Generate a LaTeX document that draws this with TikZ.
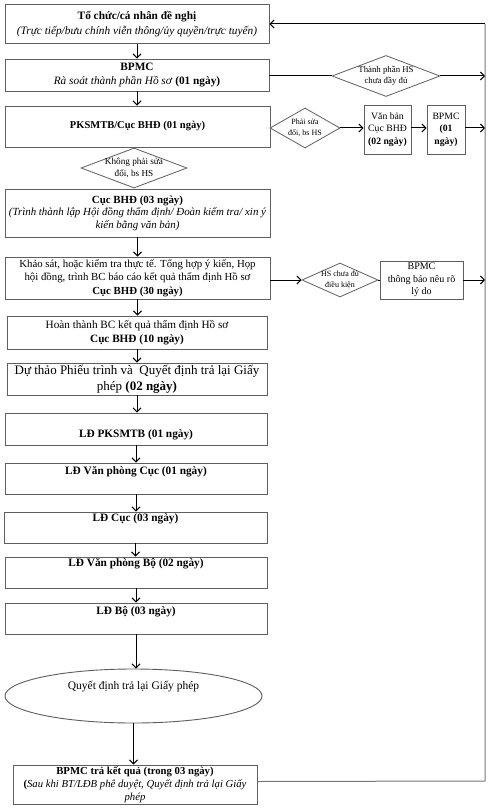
\documentclass[tikz,border=0pt]{standalone}
\usepackage{fontspec}
\setmainfont{Liberation Serif}
\usetikzlibrary{shapes.geometric,arrows.meta}
\definecolor{boxgray}{RGB}{95,95,95}
\definecolor{linegray}{RGB}{120,120,120}
\begin{document}
\begin{tikzpicture}[x=1pt,y=-1pt,
 box/.style={draw=boxgray,line width=0.9pt,rectangle,inner sep=1pt,align=center,font=\fontsize{11}{13.5}\selectfont},
 dia/.style={draw=boxgray,line width=0.8pt,diamond,inner sep=0pt},
 dtext/.style={align=center,inner sep=0pt},
 ltext/.style={align=center,inner sep=0pt,font=\fontsize{11.3}{13.5}\selectfont},
 arr/.style={line width=1pt,-{Straight Barb[length=4pt,width=8pt]}},
 ln/.style={line width=1pt},
]
\useasboundingbox (0,0) rectangle (495,810);
\fill[white] (0,0) rectangle (495,810);

% main column
\node[box,minimum width=264pt,minimum height=39pt,font=\fontsize{11.3}{15}\selectfont] (b1) at (137,24)
 {\textbf{Tổ chức/cá nhân đề nghị}\\\textit{(Trực tiếp/bưu chính viễn thông/ủy quyền/trực tuyến)}};
\node[box,minimum width=264pt,minimum height=32pt,font=\fontsize{11.3}{14}\selectfont] (b2) at (137,75)
 {\textbf{BPMC}\\\textit{Rà soát thành phần Hồ sơ} \textbf{(01 ngày)}};
\node[box,minimum width=265pt,minimum height=41pt,font=\fontsize{10.5}{13}\selectfont] (b3) at (137.5,126.5)
 {\textbf{PKSMTB/Cục BHĐ (01 ngày)}};
\node[box,minimum width=265pt,minimum height=48pt,font=\fontsize{10.9}{12.5}\selectfont] (b4) at (137.5,213)
 {\textbf{Cục BHĐ (03 ngày)}\\\textit{(Trình thành lập Hội đồng thẩm định/ Đoàn kiểm tra/ xin ý}\\\textit{kiến bằng văn bản)}};
\node[box,minimum width=265pt,minimum height=42pt,font=\fontsize{10.8}{13.5}\selectfont] (b5) at (137.5,278)
 {Khảo sát, hoặc kiểm tra thực tế. Tổng hợp ý kiến, Họp\\hội đồng, trình BC báo cáo kết quả thẩm định Hồ sơ\\\textbf{Cục BHĐ (30 ngày)}};
\node[box,minimum width=260pt,minimum height=33pt,font=\fontsize{11.2}{13.5}\selectfont] (b6) at (137,332.5)
 {Hoàn thành BC kết quả thẩm định Hồ sơ\\\textbf{Cục BHĐ (10 ngày)}};
\node[box,minimum width=260pt,minimum height=32pt,font=\fontsize{13}{16}\selectfont] (b7) at (137,379)
 {Dự thảo Phiếu trình và\ \ Quyết định trả lại Giấy\\phép \textbf{(02 ngày)}};
\node[box,minimum width=262pt,minimum height=32pt] (b8) at (136,429) {};
\node[ltext] (t8) at (136,435) {\textbf{LĐ PKSMTB (01 ngày)}};
\node[box,minimum width=262pt,minimum height=31pt] (b9) at (136,478.5) {};
\node[ltext] (t9) at (136,472) {\textbf{LĐ Văn phòng Cục (01 ngày)}};
\node[box,minimum width=263pt,minimum height=31pt] (b10) at (135.5,527.5) {};
\node[ltext] (t10) at (135.5,519) {\textbf{LĐ Cục (03 ngày)}};
\node[box,minimum width=262pt,minimum height=31pt] (b11) at (136,572.5) {};
\node[ltext] (t11) at (136,564) {\textbf{LĐ Văn phòng Bộ (02 ngày)}};
\node[box,minimum width=262pt,minimum height=31pt] (b12) at (136,618.5) {};
\node[ltext] (t12) at (136,612) {\textbf{LĐ Bộ (03 ngày)}};
\node[draw=boxgray,line width=0.9pt,ellipse,inner sep=0pt,minimum width=257pt,minimum height=54pt] (el) at (133.5,696) {};
\node[ltext,font=\fontsize{11.5}{13}\selectfont] (tel) at (133.5,687) {Quyết định trả lại Giấy phép};
\node[box,minimum width=244pt,minimum height=39pt,font=\fontsize{10.7}{13}\selectfont] (b13) at (135,784.5)
 {\textbf{BPMC trả kết quả (trong 03 ngày)}\\\textbf{(}\textit{Sau khi BT/LĐB phê duyệt, Quyết định trả lại Giấy}\\\textit{phép}};

% diamonds
\node[dia,minimum width=108pt,minimum height=41pt] (d1) at (386,76) {};
\node[dtext,font=\fontsize{8.8}{11}\selectfont] (td1) at (d1) {Thành phần HS\\chưa đầy đủ};
\node[dia,minimum width=70pt,minimum height=40pt] (d2) at (305,128) {};
\node[dtext,font=\fontsize{8}{10.5}\selectfont] (td2) at (d2) {Phải sửa\\đổi, bs HS};
\node[dia,minimum width=106pt,minimum height=40pt] (d3) at (134,168) {};
\node[dtext,font=\fontsize{9.2}{12.5}\selectfont] (td3) at (d3) {Không phải sửa\\đổi, bs HS};
\node[dia,minimum width=76pt,minimum height=34pt] (d4) at (340,280) {};
\node[dtext,font=\fontsize{8}{10.5}\selectfont] (td4) at (d4) {HS chưa đủ\\điều kiện};

% side boxes
\node[box,minimum width=47pt,minimum height=49pt,font=\fontsize{9.7}{12.5}\selectfont] (vb) at (387.5,129.5)
 {Văn bản\\Cục BHĐ\\\textbf{(02 ngày)}};
\node[box,minimum width=38pt,minimum height=49pt,font=\fontsize{9.7}{12.5}\selectfont] (bp1) at (446,129.5)
 {BPMC\\\textbf{(01}\\\textbf{ngày)}};
\node[box,minimum width=83pt,minimum height=38pt,font=\fontsize{10}{12.5}\selectfont] (bp2) at (421.5,280)
 {BPMC\\thông báo nêu rõ\\lý do};

% right return line
\coordinate (rtop) at (485,24);
\coordinate (rbot) at (485,781);
\coordinate (ra1) at (485,76);
\coordinate (ra2) at (485,128);
\coordinate (ra3) at (485,280);

% main arrows
\draw[arr] (b1) -- (b2);
\draw[arr] (b2.south) -- (b2.south |- b3.north);
\draw[arr] (b4.south) -- (b4.south |- b5.north);
\draw[arr] (b5.south) -- (b5.south |- b6.north);
\draw[arr] (b6.south) -- (b6.south |- b7.north);
\draw[arr] (b7.south) -- (b7.south |- b8.north);
\draw[arr] (b8.south) -- (b8.south |- b9.north);
\draw[arr] (b9.south) -- (b9.south |- b10.north);
\draw[arr] (b10.south) -- (b10.south |- b11.north);
\draw[arr] (b11.south) -- (b11.south |- b12.north);
\draw[arr] (b12.south) -- (b12.south |- el.north);
\draw[arr] (el.south) -- (el.south |- b13.north);

% side flows
\draw[ln] (b2.east |- d1.west) -- (d1.west);
\draw[arr] (d1.east) -- (ra1);
\draw[arr] (d2.east) -- (vb.west |- d2.east);
\draw[arr] (vb.east |- d2.east) -- (bp1.west |- d2.east);
\draw[arr] (bp1.east |- d2.east) -- (ra2);
\draw[arr] (b5.east |- d4.west) -- (d4.west);
\draw[ln] (d4.east) -- (bp2.west);
\draw[arr] (bp2.east) -- (ra3);

% return loop
\draw[linegray,line width=1pt] ([yshift=3pt]b13.east) -- (rbot) -- (rtop);
\draw[arr] (rtop) -- (b1.east);
\end{tikzpicture}
\end{document}
